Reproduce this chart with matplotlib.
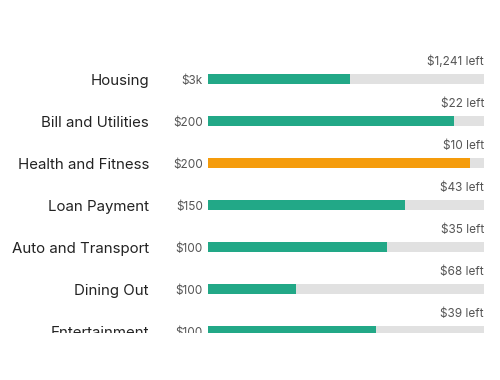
import matplotlib
matplotlib.use("Agg")
import matplotlib.pyplot as plt

# data
categories = ["Housing", "Bill and Utilities", "Health and Fitness", "Loan Payment",
              "Auto and Transport", "Dining Out", "Entertainment"]
budgets = [2550, 200, 200, 150, 100, 100, 100]
left = [1241, 22, 10, 43, 35, 68, 39]
budget_labels = ["$3k", "$200", "$200", "$150", "$100", "$100", "$100"]

green = "#22a887"
orange = "#f59c0c"
track = "#e1e1e1"

plt.rcParams['font.family'] = ['Inter', 'DejaVu Sans']

fig = plt.figure(figsize=(5, 3.8), dpi=100)
ax = fig.add_axes([0, 47 / 380, 1, 333 / 380])

spent = [(b - l) / b for b, l in zip(budgets, left)]
colors = [orange if l / b < 0.1 else green for b, l in zip(budgets, left)]
rows = range(len(categories))

ax.barh(rows, [1] * len(categories), height=0.24, color=track, left=0)
ax.barh(rows, spent, height=0.24, color=colors, left=0)

for i in rows:
    ax.text(-0.214, i + 0.14, categories[i], ha="right", va="baseline",
            fontsize=10.8, color="#222222", clip_on=True)
    ax.text(-0.018, i + 0.13, budget_labels[i], ha="right", va="baseline",
            fontsize=8.5, color="#555555", clip_on=True)
    ax.text(1.0, i - 0.325, f"${left[i]:,} left", ha="right", va="baseline",
            fontsize=8.5, color="#555555", clip_on=True)

ax.set_xlim(-208 / 276, 292 / 276)
ax.set_ylim((333 - 79) / 42, -79 / 42)
ax.axis("off")

fig.savefig("out.png", dpi=100)
